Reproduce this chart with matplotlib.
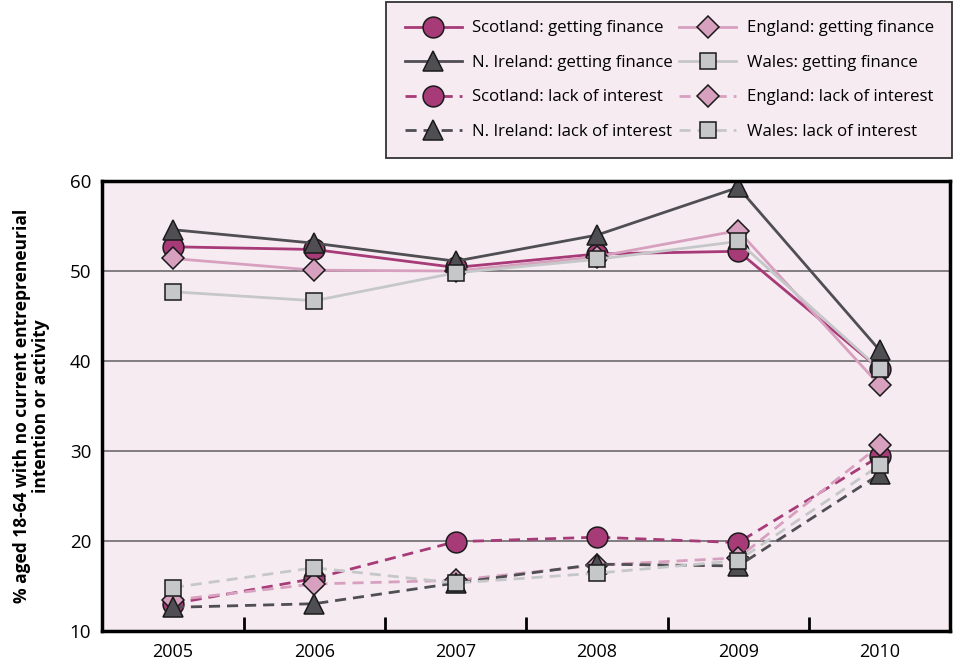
import matplotlib.pyplot as plt
import numpy as np

plt.rcParams['font.family'] = ['Open Sans', 'DejaVu Sans']

years = ['2005', '2006', '2007', '2008', '2009', '2010']

# getting finance
scot_fin = [52.7, 52.4, 50.4, 51.9, 52.2, 39.1]
eng_fin = [51.4, 50.1, 50.0, 51.6, 54.5, 37.3]
ni_fin = [54.6, 53.1, 51.1, 54.0, 59.3, 41.2]
wal_fin = [47.7, 46.7, 49.8, 51.3, 53.3, 39.1]

# lack of interest
scot_lack = [13.0, 15.8, 19.9, 20.4, 19.8, 29.4]
eng_lack = [13.4, 15.2, 15.6, 17.3, 18.1, 30.6]
ni_lack = [12.6, 13.0, 15.3, 17.4, 17.2, 27.4]
wal_lack = [14.8, 17.0, 15.3, 16.4, 17.8, 28.4]

c_scot = '#a63b78'
c_eng = '#d7a0bf'
c_ni = '#4f4e52'
c_wal = '#c6c7c9'
bg = '#f7ebf2'

fig = plt.figure(figsize=(9.55, 6.66), dpi=100)
ax = fig.add_axes([0.107, 0.053, 0.888, 0.675])
ax.set_facecolor(bg)

x = np.arange(len(years))

series = [
    (scot_fin, 'Scotland: getting finance', c_scot, 'o', 15, '-'),
    (eng_fin, 'England: getting finance', c_eng, 'D', 11, '-'),
    (ni_fin, 'N. Ireland: getting finance', c_ni, '^', 15, '-'),
    (wal_fin, 'Wales: getting finance', c_wal, 's', 11, '-'),
    (scot_lack, 'Scotland: lack of interest', c_scot, 'o', 15, '--'),
    (eng_lack, 'England: lack of interest', c_eng, 'D', 11, '--'),
    (ni_lack, 'N. Ireland: lack of interest', c_ni, '^', 15, '--'),
    (wal_lack, 'Wales: lack of interest', c_wal, 's', 11, '--'),
]

handles = {}
for vals, lab, col, mk, ms, ls in series:
    ln, = ax.plot(x, vals, linestyle=ls, color=col, linewidth=2,
                  marker=mk, markersize=ms, markerfacecolor=col,
                  markeredgecolor='#1a1a1a', markeredgewidth=1.1,
                  label=lab, dashes=(4, 2.5) if ls == '--' else (None, None))
    handles[lab] = ln

ax.set_xlim(-0.5, len(years) - 0.5)
ax.set_ylim(10, 60)
ax.set_yticks([10, 20, 30, 40, 50, 60])
ax.tick_params(axis='y', length=0, labelsize=13.5, pad=8)
ax.set_xticks(x)
ax.set_xticklabels(years)
ax.tick_params(axis='x', length=0, labelsize=13, pad=9)
ax.set_xticks(x[:-1] + 0.5, minor=True)
ax.tick_params(axis='x', which='minor', direction='in', length=10, width=2)

for yv in [20, 30, 40, 50]:
    ax.axhline(yv, color='#6d6a6d', linewidth=1.2, zorder=1)

for s in ax.spines.values():
    s.set_linewidth(2.5)
    s.set_color('black')

ax.set_ylabel('% aged 18-64 with no current entrepreneurial\nintention or activity',
              fontsize=12.5, fontweight='bold', labelpad=14, linespacing=1.05)

order = ['Scotland: getting finance', 'N. Ireland: getting finance',
         'Scotland: lack of interest', 'N. Ireland: lack of interest',
         'England: getting finance', 'Wales: getting finance',
         'England: lack of interest', 'Wales: lack of interest']
leg = fig.legend([handles[k] for k in order], order, ncol=2,
                 loc='upper right', bbox_to_anchor=(0.997, 0.997),
                 borderaxespad=0.0,
                 fontsize=12.1, frameon=True, fancybox=False,
                 edgecolor='#333333', facecolor=bg, framealpha=1,
                 handlelength=3.4, handletextpad=0.6, columnspacing=0.4,
                 labelspacing=1.1, borderpad=1.1, markerscale=1.0)
leg.get_frame().set_linewidth(1.3)

fig.savefig('out.png', dpi=100)
